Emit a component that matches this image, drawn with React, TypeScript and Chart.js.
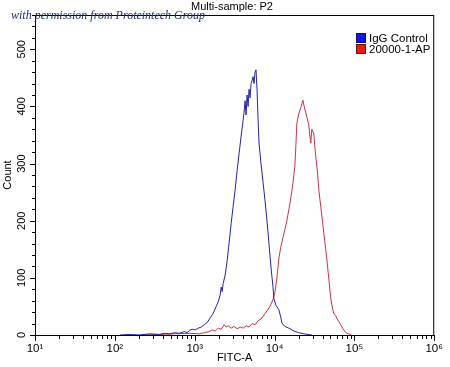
import { useEffect, useRef } from 'react';
import { Chart, registerables } from 'chart.js';

Chart.register(...registerables);

const chartTitle = 'Multi-sample: P2';
const watermarkText = 'with permission from Proteintech Group';
const xAxisLabel = 'FITC-A';
const yAxisLabel = 'Count';
const seriesNames = ['IgG Control', '20000-1-AP'];

const iggFitc = [115, 153, 204, 272, 362, 418, 482, 557, 643, 742, 808, 857, 934, 1017, 1109, 1209, 1318, 1436, 1565, 1706, 1860, 1970, 2086, 2147, 2209, 2273, 2408, 2550, 2701, 2861, 3030, 3209, 3399, 3600, 3813, 4036, 4154, 4276, 4400, 4529, 4661, 4796, 4936, 5080, 5227, 5380, 5537, 5697, 5863, 6034, 6210, 6390, 6768, 7168, 7591, 8041, 8514, 9020, 9552, 9831, 10411, 11348, 12017, 12368, 13483, 15120, 17455, 20155, 23265, 29280];
const iggCount = [0, 1, 0, 2, 1, 3, 2, 4, 3, 6, 4, 8, 10, 9, 12, 14, 18, 22, 30, 38, 50, 58, 70, 84, 76, 90, 105, 130, 162, 195, 225, 254, 288, 318, 348, 375, 390, 410, 385, 420, 400, 430, 415, 440, 445, 452, 440, 460, 464, 430, 380, 336, 300, 268, 236, 200, 160, 119, 85, 63, 52, 44, 30, 21, 15, 12, 7, 4, 2, 0];

const apFitc = [204, 362, 557, 857, 1141, 1318, 1521, 1658, 1807, 1970, 2147, 2340, 2477, 2624, 2861, 3118, 3399, 3705, 4036, 4400, 4796, 5227, 5697, 6210, 6768, 7377, 8041, 8762, 9552, 10116, 10715, 11348, 12017, 12731, 13483, 14275, 15120, 16015, 16960, 17963, 18490, 19025, 20155, 21343, 22610, 23940, 25351, 26853, 27633, 28436, 29280, 30130, 31000, 32835, 34775, 35790, 37900, 40130, 42500, 45010, 47690, 50500, 53480, 55040, 58290, 60000, 63530, 67300, 71270, 75480, 79950, 84660, 92280];
const apCount = [0, 1, 2, 3, 2, 4, 6, 9, 7, 12, 10, 18, 14, 16, 12, 15, 11, 14, 12, 16, 14, 20, 18, 25, 28, 35, 42, 50, 62, 75, 100, 135, 155, 170, 185, 200, 220, 240, 265, 295, 330, 370, 388, 398, 411, 395, 382, 368, 350, 336, 360, 357, 352, 312, 280, 255, 225, 195, 165, 135, 100, 65, 45, 38, 34, 30, 24, 18, 12, 7, 3, 2, 0];

const decadeValues = [10, 100, 1000, 10000, 100000, 1000000];
const decadeLabels = ['10¹', '10²', '10³', '10⁴', '10⁵', '10⁶'];
const minorMultipliers = [2, 3, 4, 5, 6, 7, 8, 9];
const yMin = 0;
const yMax = 560;
const yStep = 20;
const yLabelStep = 100;

const lineColors = ['#2323a8', '#c83444'];
const legendFills = ['#1414e6', '#ee1616'];
const legendEdges = ['#10106a', '#701010'];
const FONT = "'Liberation Sans', Arial, sans-serif";

const decorations = {
  id: 'decorations',
  afterDraw(chart: any) {
    const { ctx, chartArea } = chart;
    const xs = chart.scales.x;
    const ys = chart.scales.y;
    ctx.save();
    // frame
    ctx.strokeStyle = '#000';
    ctx.lineWidth = 1;
    ctx.strokeRect(chartArea.left + 0.5, chartArea.top + 0.5, chartArea.right - chartArea.left - 1, chartArea.bottom - chartArea.top);
    // tick marks
    ctx.beginPath();
    xs.ticks.forEach((t: any) => {
      const px = Math.round(xs.getPixelForValue(t.value)) + 0.5;
      const major = decadeValues.includes(t.value);
      ctx.moveTo(px, chartArea.bottom);
      ctx.lineTo(px, chartArea.bottom + (major ? 6 : 4));
    });
    ys.ticks.forEach((t: any) => {
      const py = Math.round(ys.getPixelForValue(t.value)) + 0.5;
      const major = t.value % yLabelStep === 0;
      ctx.moveTo(chartArea.left, py);
      ctx.lineTo(chartArea.left - (major ? 5 : 3), py);
    });
    ctx.stroke();
    // rotated y tick labels
    ctx.fillStyle = '#000';
    ctx.font = `11px ${FONT}`;
    ctx.textAlign = 'center';
    ctx.textBaseline = 'middle';
    ys.ticks.forEach((t: any) => {
      if (t.value % yLabelStep !== 0) return;
      const py = ys.getPixelForValue(t.value);
      ctx.save();
      ctx.translate(22, py);
      ctx.rotate(-Math.PI / 2);
      ctx.fillText(String(t.value), 0, 0);
      ctx.restore();
    });
    // title
    ctx.fillText(chartTitle, 232, 7);
    // legend
    chart.data.datasets.forEach((ds: any, i: number) => {
      const y = 33 + i * 11;
      ctx.fillStyle = legendFills[i];
      ctx.fillRect(356, y, 10, 10);
      ctx.strokeStyle = legendEdges[i];
      ctx.strokeRect(356.5, y + 0.5, 9, 9);
      ctx.fillStyle = '#000';
      ctx.textAlign = 'left';
      ctx.textBaseline = 'middle';
      ctx.font = `11.5px ${FONT}`;
      ctx.fillText(ds.label, 369, y + 5.5);
    });
    // watermark
    ctx.font = "italic 12.5px 'Liberation Serif', 'DejaVu Serif', serif";
    ctx.fillStyle = '#22306a';
    ctx.textAlign = 'left';
    ctx.textBaseline = 'alphabetic';
    const w = ctx.measureText(watermarkText).width;
    ctx.save();
    ctx.translate(11, 19);
    ctx.scale(194 / w, 1);
    ctx.fillText(watermarkText, 0, 0);
    ctx.restore();
    ctx.restore();
  },
};

export default function App() {
  const ref = useRef<HTMLCanvasElement | null>(null);
  useEffect(() => {
    document.body.style.margin = '0';
    const canvas = ref.current;
    if (!canvas) return;
    const chart = new Chart(canvas, {
      type: 'line',
      data: {
        datasets: [
          {
            label: seriesNames[0],
            data: iggFitc.map((x, i) => ({ x, y: iggCount[i] })),
            borderColor: lineColors[0],
            borderWidth: 1,
            pointRadius: 0,
            tension: 0,
            fill: false,
          },
          {
            label: seriesNames[1],
            data: apFitc.map((x, i) => ({ x, y: apCount[i] })),
            borderColor: lineColors[1],
            borderWidth: 1,
            pointRadius: 0,
            tension: 0,
            fill: false,
          },
        ],
      },
      options: {
        animation: false,
        responsive: false,
        maintainAspectRatio: false,
        devicePixelRatio: 1,
        layout: { padding: { top: 15, right: 14, left: 0, bottom: 0 } },
        plugins: {
          legend: { display: false },
          title: { display: false },
          tooltip: { enabled: false },
        },
        scales: {
          x: {
            type: 'logarithmic',
            min: decadeValues[0],
            max: decadeValues[decadeValues.length - 1],
            border: { display: false },
            grid: { drawOnChartArea: false, drawTicks: false },
            afterBuildTicks: (scale: any) => {
              const ticks: any[] = [];
              decadeValues.forEach((d, i) => {
                ticks.push({ value: d });
                if (i < decadeValues.length - 1) minorMultipliers.forEach((m) => ticks.push({ value: m * d }));
              });
              scale.ticks = ticks;
            },
            afterFit: (scale: any) => {
              scale.height = 32;
            },
            ticks: {
              autoSkip: false,
              maxRotation: 0,
              minRotation: 0,
              padding: 7,
              color: '#000',
              font: { family: FONT, size: 11.5 },
              callback: (v: any) => {
                const idx = decadeValues.indexOf(Number(v));
                return idx >= 0 ? decadeLabels[idx] : '';
              },
            },
            title: {
              display: true,
              text: xAxisLabel,
              color: '#000',
              font: { family: FONT, size: 11 },
              padding: { top: 0, bottom: 2 },
            },
          },
          y: {
            type: 'linear',
            min: yMin,
            max: yMax,
            border: { display: false },
            grid: { drawOnChartArea: false, drawTicks: false },
            afterFit: (scale: any) => {
              scale.width = 35;
            },
            ticks: {
              stepSize: yStep,
              autoSkip: false,
              display: false,
            },
            title: {
              display: true,
              text: yAxisLabel,
              color: '#000',
              font: { family: FONT, size: 11 },
              padding: { top: 1, bottom: 0 },
            },
          },
        },
      },
      plugins: [decorations],
    } as any);
    return () => chart.destroy();
  }, []);
  return (
    <div style={{ position: 'absolute', left: 0, top: 0, width: 450, height: 367, background: '#fff' }}>
      <canvas ref={ref} width={450} height={367} style={{ width: 450, height: 367, display: 'block' }} />
    </div>
  );
}
